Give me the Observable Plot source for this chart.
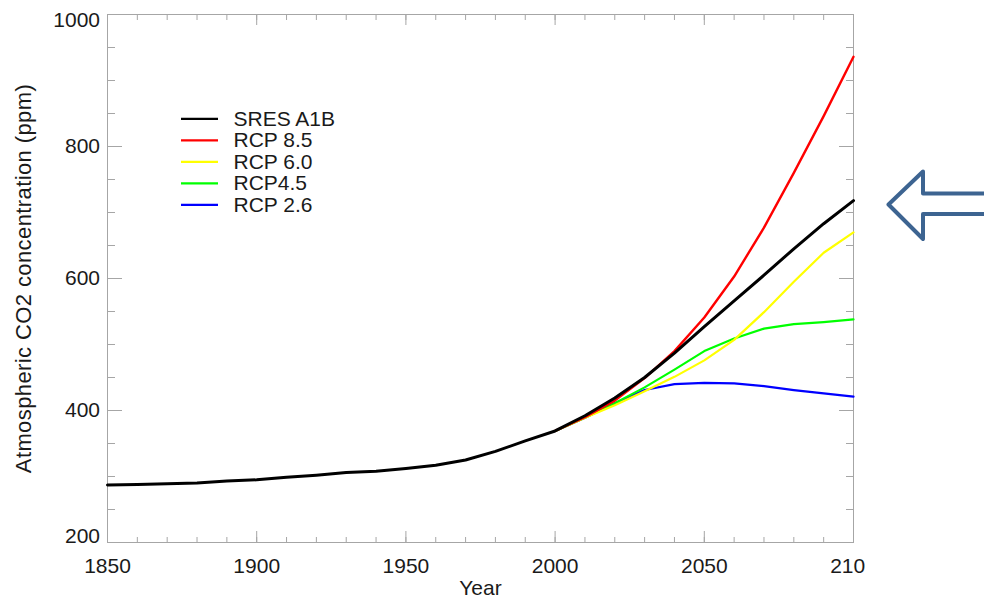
<!DOCTYPE html>
<html><head><meta charset="utf-8">
<script src="https://cdn.jsdelivr.net/npm/d3@7"></script>
<script src="https://cdn.jsdelivr.net/npm/@observablehq/plot@0.6"></script>
<style>
html,body{margin:0;padding:0;background:#fff;}
#chart svg{display:block;}
</style></head><body><div id="chart"></div>
<script>
// ---- data ----
const histYears = [1850,1860,1870,1880,1890,1900,1910,1920,1930,1940,1950,1960,1970,1980,1990,2000,2010,2020,2030,2040,2050,2060,2070,2080,2090,2100];
const sresA1B   = [287,288,289,290,293,295,299,302,306,308,312,317,325,338,354,369,392,419,450,487,527,566,605,645,683,718];
const scenYears = [2000,2010,2020,2030,2040,2050,2060,2070,2080,2090,2100];
const rcp85 = [369,390,415,449,490,541,603,677,760,846,936];
const rcp60 = [369,389,408,429,451,476,507,549,595,639,670];
const rcp45 = [369,389,411,435,462,490,509,524,531,534,538];
const rcp26 = [369,389,411,431,440,442,441,437,431,426,421];
const seriesNames  = ["SRES A1B","RCP 8.5","RCP 6.0","RCP4.5","RCP 2.6"];
const seriesColors = ["#000000","#ff0000","#ffff00","#00ff00","#0000ff"];
const xMajorTicks = [1850,1900,1950,2000,2050,2100];
const xTickLabels = ["1850","1900","1950","2000","2050","210"];
const xMinorTicks = [1850,1860,1870,1880,1890,1900,1910,1920,1930,1940,1950,1960,1970,1980,1990,2000,2010,2020,2030,2040,2050,2060,2070,2080,2090,2100];
const yMajorTicks = [200,400,600,800,1000];
const yTickLabels = ["200","400","600","800","1000"];
const yMinorTicks = [200,250,300,350,400,450,500,550,600,650,700,750,800,850,900,950,1000];
const xTitle = "Year";
const yTitle = "Atmospheric CO2 concentration (ppm)";

// ---- layout ----
const W = 984, H = 598;
const mL = 107, mR = 131, mT = 14, mB = 56;
const xDomain = [1850, 2100], yDomain = [200, 1000];
const xs = d3.scaleLinear(xDomain, [mL, W - mR]);
const ys = d3.scaleLinear(yDomain, [H - mB, mT]);
const axisColor = "#a6a6a6";
const textColor = "#1a1a1a";
const font = "'Liberation Sans', Arial, Helvetica, sans-serif";

const toRows = (yrs, vals, name) => yrs.map((y, i) => ({year: y, ppm: vals[i], series: name}));
const black  = toRows(histYears, sresA1B, seriesNames[0]);
const red    = toRows(scenYears, rcp85, seriesNames[1]);
const yellow = toRows(scenYears, rcp60, seriesNames[2]);
const green  = toRows(scenYears, rcp45, seriesNames[3]);
const blue   = toRows(scenYears, rcp26, seriesNames[4]);

const yLabelRows = yMajorTicks.map((v, i) => ({v, label: yTickLabels[i]}));
const yLabelsInner = yLabelRows.slice(1, -1);
const yLabelBottom = yLabelRows.slice(0, 1);
const yLabelTop = yLabelRows.slice(-1);

// legend (pixel layout inverted into data space)
const legendRows = seriesNames.map((name, i) => {
  const py = 118.3 + i * 21.5;
  return {name, color: seriesColors[i], y: ys.invert(py), x1: xs.invert(181), x2: xs.invert(218), tx: xs.invert(233)};
});

// outline arrow annotation (pixel layout inverted into data space)
const arrowPx = [[995,193],[922.5,193],[922.5,171],[888,204],[922.5,238.5],[922.5,213.5],[995,213.5]];
const arrow = arrowPx.map(([px, py]) => ({x: xs.invert(px), y: ys.invert(py)}));

const yLabelOpts = {y: "v", text: "label", frameAnchor: "left", textAnchor: "end", lineAnchor: "middle", dx: -7.5, fontSize: 21, fill: textColor};

const chart = Plot.plot({
  width: W, height: H,
  marginLeft: mL, marginRight: mR, marginTop: mT, marginBottom: mB,
  x: {domain: xDomain},
  y: {domain: yDomain},
  style: {fontFamily: font, background: "#fff", color: textColor, overflow: "hidden"},
  marks: [
    Plot.frame({stroke: axisColor, strokeWidth: 1}),
    // x ticks (inward), bottom and top
    Plot.axisX({anchor: "bottom", ticks: xMinorTicks, tickSize: -5, tickFormat: () => "", stroke: axisColor, label: null}),
    Plot.axisX({anchor: "bottom", ticks: xMajorTicks, tickSize: -11, tickFormat: () => "", stroke: axisColor, label: null}),
    Plot.axisX({anchor: "top", ticks: xMinorTicks, tickSize: -5, tickFormat: () => "", stroke: axisColor, label: null}),
    Plot.axisX({anchor: "top", ticks: xMajorTicks, tickSize: -10, tickFormat: () => "", stroke: axisColor, label: null}),
    // y ticks (inward), left and right
    Plot.axisY({anchor: "left", ticks: yMinorTicks, tickSize: -8, tickFormat: () => "", stroke: axisColor, label: null}),
    Plot.axisY({anchor: "left", ticks: yMajorTicks, tickSize: -15, tickFormat: () => "", stroke: axisColor, label: null}),
    Plot.axisY({anchor: "right", ticks: yMinorTicks, tickSize: -8, tickFormat: () => "", stroke: axisColor, label: null}),
    Plot.axisY({anchor: "right", ticks: yMajorTicks, tickSize: -15, tickFormat: () => "", stroke: axisColor, label: null}),
    // tick labels
    Plot.text(xMajorTicks, {x: d => d, text: (d, i) => xTickLabels[i], frameAnchor: "bottom", textAnchor: "start", lineAnchor: "middle", dx: -23.35, dy: 23.3, fontSize: 21, fill: textColor}),
    Plot.text(yLabelsInner, yLabelOpts),
    Plot.text(yLabelBottom, {...yLabelOpts, dy: -6.5}),
    Plot.text(yLabelTop, {...yLabelOpts, dy: 6}),
    // axis titles
    Plot.text([xTitle], {frameAnchor: "bottom", textAnchor: "middle", lineAnchor: "middle", dy: 45.5, fontSize: 21, fill: textColor}),
    Plot.text([yTitle], {frameAnchor: "left", textAnchor: "middle", lineAnchor: "middle", rotate: -90, dx: -83.3, fontSize: 22, fill: textColor}),
    // series
    Plot.line(blue,   {x: "year", y: "ppm", stroke: seriesColors[4], strokeWidth: 2.2}),
    Plot.line(green,  {x: "year", y: "ppm", stroke: seriesColors[3], strokeWidth: 2.2}),
    Plot.line(yellow, {x: "year", y: "ppm", stroke: seriesColors[2], strokeWidth: 2.2}),
    Plot.line(red,    {x: "year", y: "ppm", stroke: seriesColors[1], strokeWidth: 2.4}),
    Plot.line(black,  {x: "year", y: "ppm", stroke: seriesColors[0], strokeWidth: 3}),
    // legend
    Plot.ruleY(legendRows, {y: "y", x1: "x1", x2: "x2", stroke: d => d.color, strokeWidth: 2.2}),
    Plot.text(legendRows, {x: "tx", y: "y", text: "name", textAnchor: "start", lineAnchor: "middle", fontSize: 21, fill: textColor}),
    // arrow annotation
    Plot.line(arrow, {x: "x", y: "y", stroke: "#3d6491", strokeWidth: 4, strokeLinejoin: "round", curve: "linear"})
  ]
});
document.getElementById("chart").appendChild(chart);
// slight letter spacing on the y title to match reference length
d3.select(chart).selectAll("text").filter(function(){ return this.textContent === yTitle; }).attr("letter-spacing", "0.4px");
</script>
</body></html>
